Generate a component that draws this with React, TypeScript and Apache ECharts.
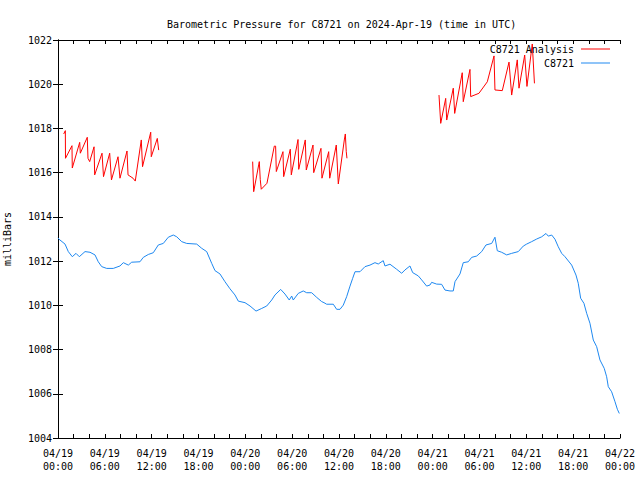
import React, { useEffect, useRef } from "react";
import * as echarts from "echarts";

const titleText = "Barometric Pressure for C8721 on 2024-Apr-19 (time in UTC)";
const yAxisName = "milliBars";
const analysisName = "C8721 Analysis";
const stationName = "C8721";

// [hours since 04/19 00:00 UTC, mbar]
const analysisSeg1: [number, number][] = [
  [0.73, 1017.75], [0.94, 1017.9], [0.96, 1016.65], [1.79, 1017.22], [1.83, 1016.21],
  [2.78, 1017.37], [2.86, 1016.88], [3.75, 1017.6], [3.84, 1016.65], [4.06, 1016.5],
  [4.62, 1017.17], [4.7, 1015.9], [5.64, 1016.88], [5.83, 1015.82], [6.62, 1016.88],
  [6.85, 1015.67], [7.69, 1016.72], [7.94, 1015.75], [8.84, 1016.98], [8.97, 1015.9],
  [9.61, 1015.75], [9.9, 1015.62], [10.67, 1017.48], [10.83, 1016.27], [11.88, 1017.83],
  [11.95, 1016.72], [12.72, 1017.55], [12.9, 1017.02],
];
const analysisSeg2: [number, number][] = [
  [24.94, 1016.5], [25.07, 1015.14], [25.71, 1016.35], [25.79, 1016.5], [25.91, 1015.7],
  [26.04, 1015.25], [26.77, 1015.52], [27.71, 1017.2], [27.88, 1017.2], [27.97, 1016.05],
  [28.82, 1016.95], [28.91, 1015.82], [29.76, 1017.06], [29.89, 1015.9], [30.75, 1017.5],
  [30.84, 1016.15], [31.68, 1017.48], [31.81, 1016.12], [32.67, 1017.25], [32.76, 1016.0],
  [33.69, 1017.1], [33.82, 1015.75], [34.68, 1016.95], [34.81, 1015.75], [35.65, 1017.25],
  [35.91, 1015.49], [36.68, 1017.48], [36.81, 1017.75], [36.93, 1016.95], [37.02, 1016.65],
];
const analysisSeg3: [number, number][] = [
  [48.81, 1019.51], [49.03, 1018.23], [49.67, 1019.36], [49.8, 1018.38], [50.64, 1019.82],
  [50.82, 1018.68], [51.79, 1020.52], [51.92, 1019.21], [52.78, 1020.67], [52.87, 1019.44],
  [53.93, 1019.59], [55.0, 1020.11], [55.86, 1021.28], [55.98, 1019.74], [56.92, 1019.71],
  [57.78, 1021.0], [58.12, 1019.51], [58.84, 1021.1], [59.06, 1019.82], [59.79, 1021.32],
  [60.08, 1019.9], [60.76, 1021.82], [61.04, 1020.04],
];

const stationDay1: [number, number][] = [
  [0, 1013.05], [0.13, 1012.99], [0.9, 1012.77], [1.32, 1012.43], [1.83, 1012.2],
  [2.31, 1012.35], [2.73, 1012.2], [3.46, 1012.43], [4.1, 1012.4], [4.74, 1012.28],
  [5.16, 1011.97], [5.6, 1011.75], [6.24, 1011.67], [7.08, 1011.67], [7.94, 1011.78],
  [8.37, 1011.93], [9.01, 1011.82], [9.44, 1011.95], [10.5, 1011.97], [10.93, 1012.17],
  [11.57, 1012.3], [12.21, 1012.38], [12.85, 1012.73], [13.49, 1012.8], [14.13, 1013.08],
  [14.77, 1013.18], [15.21, 1013.1], [15.85, 1012.88], [16.49, 1012.8], [17.77, 1012.77],
  [18.41, 1012.58], [19.05, 1012.43], [19.69, 1011.9], [20.11, 1011.57], [20.75, 1011.42],
  [21.39, 1011.07], [22.03, 1010.75], [22.67, 1010.47], [23.1, 1010.19], [23.96, 1010.12],
];
const stationDay2: [number, number][] = [
  [24.6, 1009.97], [25.37, 1009.74], [26.1, 1009.86], [26.74, 1009.97], [27.38, 1010.24],
  [27.8, 1010.47], [28.53, 1010.72], [29.08, 1010.51], [29.63, 1010.24], [29.94, 1010.42],
  [30.14, 1010.24], [30.78, 1010.54], [31.42, 1010.65], [31.86, 1010.57], [32.5, 1010.57],
  [33.14, 1010.36], [33.78, 1010.17], [34.08, 1010.12], [34.42, 1010.05], [35.27, 1010.05],
  [35.7, 1009.82], [36.13, 1009.82], [36.55, 1010.01], [36.98, 1010.39], [37.41, 1010.87],
  [37.75, 1011.22], [38.05, 1011.52], [38.69, 1011.52], [39.33, 1011.75], [39.97, 1011.82],
  [40.61, 1011.93], [41.03, 1011.87], [41.67, 1012.02], [41.89, 1011.78], [42.53, 1011.86],
  [43.39, 1011.63], [44.03, 1011.45], [44.45, 1011.6], [45.09, 1011.78], [45.44, 1011.48],
  [46.16, 1011.33], [46.59, 1011.15], [47.23, 1010.87], [47.66, 1010.92], [47.87, 1011.04],
];
const stationDay3: [number, number][] = [
  [48.51, 1010.96], [49.15, 1010.95], [49.58, 1010.69], [50.22, 1010.65], [50.64, 1010.65],
  [50.86, 1011.07], [51.5, 1011.42], [51.92, 1011.93], [52.56, 1011.97], [53.0, 1012.17],
  [53.64, 1012.23], [54.28, 1012.43], [54.83, 1012.73], [55.56, 1012.8], [55.98, 1013.08],
  [56.28, 1012.47], [56.84, 1012.4], [57.48, 1012.28], [58.12, 1012.35], [58.97, 1012.43],
  [59.61, 1012.68], [60.04, 1012.77], [60.68, 1012.88], [61.33, 1013.0], [61.97, 1013.1],
  [62.52, 1013.25], [62.81, 1013.13], [63.25, 1013.18], [63.67, 1012.99], [64.09, 1012.65],
  [64.53, 1012.35], [64.95, 1012.2], [65.81, 1011.82], [66.36, 1011.37], [66.65, 1011.0],
  [66.96, 1010.32], [67.38, 1010.09], [67.73, 1009.64], [68.15, 1009.19], [68.58, 1008.43],
  [69.01, 1008.13], [69.43, 1007.53], [69.98, 1007.15], [70.29, 1006.77], [70.5, 1006.32],
  [70.93, 1006.09], [71.36, 1005.64], [71.66, 1005.3], [71.91, 1005.11],
];

const xMinHours = 0;
const xMaxHours = 72;
const xTickHours = 6;
const yMin = 1004;
const yMax = 1022;
const yTick = 2;

const FONT = "DejaVu Sans Mono";

function fmtTime(h: number): string {
  const day = 19 + Math.floor(h / 24);
  const hr = Math.round(h % 24);
  const pad = (n: number) => (n < 10 ? "0" + n : "" + n);
  return `04/${pad(day)}\n${pad(hr)}:00`;
}

export default function App() {
  const ref = useRef<HTMLDivElement>(null);
  useEffect(() => {
    if (!ref.current) return;
    const chart = echarts.init(ref.current, null, { renderer: "svg" });
    const gap: any = ["-", "-"];
    const analysisData: any[] = [...analysisSeg1, gap, ...analysisSeg2, gap, ...analysisSeg3];
    const stationData = [...stationDay1, ...stationDay2, ...stationDay3];

    const xBase: any = {
      type: "value",
      min: xMinHours,
      max: xMaxHours,
      interval: xTickHours,
      axisLine: { show: true, lineStyle: { color: "#000", width: 1 } },
      axisTick: { show: true, inside: true, length: 4, lineStyle: { color: "#000" } },
      minorTick: { show: true, splitNumber: 3, length: 4, lineStyle: { color: "#000" } },
      splitLine: { show: false },
      minorSplitLine: { show: false },
    };
    const yBase: any = {
      type: "value",
      min: yMin,
      max: yMax,
      interval: yTick,
      axisLine: { show: true, lineStyle: { color: "#000", width: 1 } },
      axisTick: { show: true, inside: true, length: 5, lineStyle: { color: "#000" } },
      splitLine: { show: false },
    };

    chart.setOption({
      animation: false,
      backgroundColor: "#fff",
      textStyle: { fontFamily: FONT, color: "#000" },
      title: {
        text: titleText,
        left: 162,
        top: 14,
        textStyle: { fontFamily: FONT, fontSize: 10, fontWeight: "normal", color: "#000" },
      },
      legend: [
        {
          data: [analysisName],
          right: 30,
          top: 44,
          align: "right",
          icon: "rect",
          itemWidth: 29,
          itemHeight: 1,
          padding: 0,
          selectedMode: false,
          textStyle: { fontFamily: FONT, fontSize: 10, color: "#000", padding: [0, 2, 0, 0] },
        },
        {
          data: [stationName],
          right: 30,
          top: 58,
          align: "right",
          icon: "rect",
          itemWidth: 29,
          itemHeight: 1,
          padding: 0,
          selectedMode: false,
          textStyle: { fontFamily: FONT, fontSize: 10, color: "#000", padding: [0, 2, 0, 0] },
        },
      ],
      grid: { left: 58, right: 20, top: 40, bottom: 42, containLabel: false, outerBoundsMode: "none" },
      xAxis: [
        {
          ...xBase,
          position: "bottom",
          axisLabel: {
            show: true,
            margin: 9,
            fontFamily: FONT,
            fontSize: 10,
            color: "#000",
            lineHeight: 13,
            formatter: (v: number) => fmtTime(v),
          },
        },
        { ...xBase, position: "top", axisLabel: { show: false } },
      ],
      yAxis: [
        {
          ...yBase,
          position: "left",
          name: yAxisName,
          nameLocation: "middle",
          nameRotate: 90,
          nameGap: 46,
          nameTextStyle: { fontFamily: FONT, fontSize: 10, color: "#000" },
          axisLabel: {
            show: true,
            margin: 6,
            fontFamily: FONT,
            fontSize: 10,
            color: "#000",
            formatter: (v: number) => String(v),
          },
        },
        { ...yBase, position: "right", axisLabel: { show: false } },
      ],
      series: [
        {
          name: analysisName,
          type: "line",
          data: analysisData,
          showSymbol: false,
          symbol: "none",
          connectNulls: false,
          lineStyle: { color: "#ff0000", width: 1 },
          itemStyle: { color: "#ff0000" },
        },
        {
          name: stationName,
          type: "line",
          data: stationData,
          showSymbol: false,
          symbol: "none",
          lineStyle: { color: "#1e88f0", width: 1 },
          itemStyle: { color: "#1e88f0" },
        },
      ],
    });
    return () => chart.dispose();
  }, []);
  return (
    <div
      ref={ref}
      style={{ position: "fixed", left: 0, top: 0, width: 640, height: 480, background: "#fff" }}
    />
  );
}
